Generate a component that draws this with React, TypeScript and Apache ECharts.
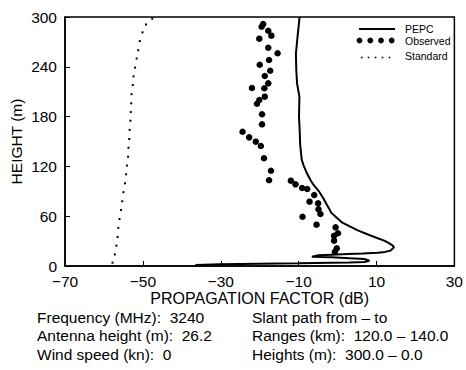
import React, { useEffect, useRef } from "react";
import * as echarts from "echarts";

// PEPC (solid curve), traced in drawing order (dB, m)
const pepcX = [-9.75, -10.2, -10.7, -10.6, -10.4, -9.8, -9.9, -9.7, -9.6, -9.2, -8.7, -7.9, -7.0, -6.2, -4.8, -3.7, -2.8, -2.4, -1.6, -0.2, 1.0, 3.0, 5.2, 7.8, 10.3, 12.0, 13.2, 14.2, 14.5, 13.6, 12.2, 10.3, 6.5, 2.7, -1.5, -4.9, -6.6, -1.6, 3.0, 6.9, 8.2, 6.9, 3.0, -1.6, -10.0, -20.0, -30.0, -36.5];
const pepcY = [300, 280, 256, 236, 220, 204, 180, 160, 146, 128, 121, 112, 104, 98, 90, 82, 74, 71, 64, 58, 53, 48, 43, 38, 33.5, 30.5, 27.5, 24.5, 22.5, 18.5, 17, 16, 15, 14.5, 13.7, 12.9, 11.2, 10.4, 9.4, 8.4, 6.4, 4.8, 4.3, 4.0, 3.3, 2.8, 2.0, 1.2];

// Observed (dots)
const observedX = [-19.1, -19.5, -17.8, -17.0, -20.1, -17.8, -15.4, -17.6, -20.0, -17.3, -18.7, -17.8, -22.0, -18.8, -18.7, -20.1, -20.7, -19.4, -19.4, -24.4, -22.7, -21.0, -19.7, -18.9, -17.1, -17.6, -12.0, -10.8, -9.1, -7.8, -6.0, -7.2, -5.0, -4.9, -4.4, -9.0, -5.4, -0.5, 0.1, -0.9, -0.9, -0.2, -0.7];
const observedY = [291.6, 288.3, 283.5, 277.5, 273.9, 263, 256.3, 248.2, 242.5, 235.3, 228.9, 220.1, 214.5, 214.1, 204, 200, 195.5, 182.8, 170.7, 161.8, 155, 149.8, 144.6, 129.8, 114.8, 103.3, 102.8, 98.4, 94, 92.8, 85.5, 77.5, 75.5, 68.3, 62.7, 59.4, 49.8, 46.6, 39.4, 36.5, 30.5, 21.3, 17.2];

// Standard (dotted)
const standardX = [-57.8, -57.2, -56.8, -56.5, -56.3, -56.0, -55.6, -55.3, -55.0, -54.6, -54.3, -54.1, -53.8, -53.7, -53.5, -53.4, -53.2, -53.1, -53.0, -52.9, -52.6, -52.4, -52.0, -51.6, -51.2, -50.8, -50.1, -49.2, -47.6];
const standardY = [4, 14, 24.5, 35, 46, 56.6, 67.5, 78, 89, 99.6, 110.5, 121, 131.7, 142.5, 153, 164, 175, 185.5, 196, 207, 218, 228.5, 239, 250, 260, 271, 281.5, 291, 298];

const xLabelValues = [-70, -50, -30, -10, 10, 30];
const xTickValues = [-50, -30, -10, 10];

const legendNames = ["PEPC", "Observed", "Standard"];

const infoLeft = ["Frequency (MHz):\u00a0 3240", "Antenna height (m):\u00a0 26.2", "Wind speed (kn):\u00a0 0"];
const infoRight = ["Slant path from \u2013 to", "Ranges (km):\u00a0 120.0 \u2013 140.0", "Heights (m):\u00a0 300.0 \u2013 0.0"];

const FONT = "'Liberation Sans', Arial, Helvetica, sans-serif";

const fmt = (v: number) => String(v).replace("-", "\u2212");

export default function App() {
  const ref = useRef<HTMLDivElement>(null);
  useEffect(() => {
    if (!ref.current) return;
    const chart = echarts.init(ref.current, undefined, { renderer: "svg" });
    const lineYs = [317, 335.5, 354];
    const graphics: any[] = [];
    const infoStyle = (t: string) => ({
      text: t,
      fontSize: 15.5,
      fontFamily: FONT,
      fill: "#000",
      verticalAlign: "middle",
    });
    infoLeft.forEach((t, i) => graphics.push({ type: "text", x: 37, y: lineYs[i], style: infoStyle(t) }));
    infoRight.forEach((t, i) => graphics.push({ type: "text", x: 252, y: lineYs[i], style: infoStyle(t) }));

    // legend (drawn)
    const legY = [29, 40.5, 55.5];
    const legText = (t: string, y: number) => ({
      type: "text",
      x: 405,
      y,
      style: { text: t, fontSize: 10.5, fontFamily: FONT, fill: "#000", verticalAlign: "middle" },
    });
    graphics.push({ type: "line", shape: { x1: 359, y1: legY[0], x2: 395, y2: legY[0] }, style: { stroke: "#000", lineWidth: 2 } });
    graphics.push(legText(legendNames[0], legY[0]));
    [359.5, 370.3, 381, 391.7].forEach((cx) =>
      graphics.push({ type: "circle", shape: { cx, cy: legY[1], r: 2.9 }, style: { fill: "#000" } })
    );
    graphics.push(legText(legendNames[1], legY[1]));
    [361.7, 368.5, 375.5, 382.5, 389.5].forEach((cx) =>
      graphics.push({ type: "rect", shape: { x: cx - 0.8, y: legY[2] + 1.2, width: 1.6, height: 1.6 }, style: { fill: "#000" } })
    );
    graphics.push(legText(legendNames[2], legY[2]));

    chart.setOption({
      animation: false,
      backgroundColor: "#fff",
      textStyle: { fontFamily: FONT },
      grid: { left: 63, right: 7, top: 17, bottom: 104, show: true, borderColor: "#000", borderWidth: 1.5 },
      xAxis: {
        type: "value",
        min: -70,
        max: 30,
        interval: 10,
        name: "PROPAGATION FACTOR (dB)",
        nameLocation: "middle",
        nameGap: 24,
        nameMoveOverlap: false,
        nameTextStyle: { fontSize: 16, lineHeight: 16, color: "#000", fontFamily: FONT },
        axisLine: { show: true, onZero: false, lineStyle: { color: "#000", width: 1.5 } },
        axisTick: { show: true, inside: true, length: 5, customValues: xTickValues, lineStyle: { color: "#000" } },
        axisLabel: { customValues: xLabelValues, formatter: fmt, fontSize: 15.5, lineHeight: 14, color: "#000", margin: 8, fontFamily: FONT },
        splitLine: { show: false },
      },
      yAxis: {
        type: "value",
        min: 0,
        max: 300,
        interval: 60,
        name: "HEIGHT (m)",
        nameLocation: "middle",
        nameGap: 41,
        nameMoveOverlap: false,
        nameTextStyle: { fontSize: 15.5, color: "#000", fontFamily: FONT },
        axisLine: { show: true, onZero: false, lineStyle: { color: "#000", width: 1.5 } },
        axisTick: { show: true, inside: true, length: 5, lineStyle: { color: "#000" } },
        axisLabel: { fontSize: 15.5, lineHeight: 14, color: "#000", margin: 8, fontFamily: FONT },
        splitLine: { show: false },
      },
      series: [
        {
          name: legendNames[0],
          type: "line",
          data: pepcX.map((x, i) => [x, pepcY[i]]),
          showSymbol: false,
          symbol: "none",
          lineStyle: { color: "#000", width: 2 },
          itemStyle: { color: "#000" },
          z: 3,
        },
        {
          name: legendNames[1],
          type: "scatter",
          data: observedX.map((x, i) => [x, observedY[i]]),
          symbol: "circle",
          symbolSize: 6.5,
          itemStyle: { color: "#000", opacity: 1 },
          z: 4,
        },
        {
          name: legendNames[2],
          type: "scatter",
          data: standardX.map((x, i) => [x, standardY[i]]),
          symbol: "rect",
          symbolSize: 2,
          itemStyle: { color: "#000", opacity: 1 },
        },
      ],
      graphic: graphics,
    });
    return () => chart.dispose();
  }, []);
  return (
    <div
      ref={ref}
      style={{ position: "fixed", left: 0, top: 0, width: 466, height: 370, background: "#fff" }}
    />
  );
}
